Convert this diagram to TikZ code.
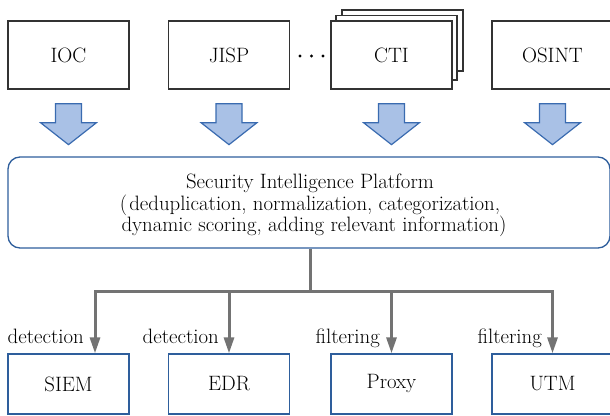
\documentclass[tikz,border=0pt]{standalone}
\usepackage{fontspec}
\usetikzlibrary{arrows.meta}
\definecolor{boxgray}{HTML}{333333}
\definecolor{boxblue}{HTML}{2E5E9C}
\definecolor{arrfill}{HTML}{A9C1E6}
\definecolor{arredge}{HTML}{3A6BB0}
\definecolor{conngray}{HTML}{737373}
\tikzset{
  txt/.style={font=\fontsize{20.8}{21.5}\selectfont, inner sep=0pt, text=black},
  srcbox/.style={txt, draw=boxgray, line width=1.3pt, fill=white, minimum width=121pt, minimum height=68pt},
  layerbox/.style={draw=boxgray, line width=1.3pt, fill=white},
  dstbox/.style={txt, draw=boxblue, line width=1.3pt, minimum width=121pt, minimum height=60pt},
  mainbox/.style={draw=boxblue, line width=1.3pt, rounded corners=12pt, minimum width=602pt, minimum height=91pt, inner sep=0pt},
  conn/.style={draw=conngray, line width=3pt},
  tip/.style={-{Triangle[length=16pt,width=10pt]}},
  lbl/.style={txt, anchor=base east},
  blockarrow/.pic={\draw[fill=arrfill, draw=arredge, line width=1.2pt, line join=miter]
     (-13,0) -- (13,0) -- (13,19) -- (28,19) -- (0,41) -- (-28,19) -- (-13,19) -- cycle;}
}
\begin{document}
\begin{tikzpicture}[x=1pt,y=-1pt]
\useasboundingbox (0,0) rectangle (610,415);
% sources
\node[srcbox] (ioc) at (68.5,55) {IOC};
\node[srcbox] (jisp) at (229,55) {JISP};
\draw[layerbox] (342,10) rectangle (463,71);
\draw[layerbox] (336,15.5) rectangle (457,80);
\node[srcbox] (cti) at (391.5,55) {CTI};
\node[srcbox] (osint) at (552.5,55) {OSINT};
\foreach \xx in {300,311.5,323} \fill[black] (\xx,56) circle (1.6pt);
% block arrows
\foreach \n in {ioc,jisp,cti,osint}
  \path ([yshift=-14pt]\n.south) pic {blockarrow};
% platform
\node[mainbox] (sip) at (309,202.5) {};
\node[txt, align=center] (siptext) at (310,205.3)
  {Security Intelligence Platform\\
   (\kern2pt deduplication, normalization, categorization,\hspace*{10pt}\\
   \hspace*{8pt}dynamic scoring, adding relevant information)};
% destinations
\node[dstbox] (siem) at (68.5,384) {SIEM};
\node[dstbox] (edr) at (229,384) {EDR};
\node[dstbox] (proxy) at (391.5,384) {Proxy};
\node[dstbox] (utm) at (552.5,384) {UTM};
% connectors
\coordinate (split) at (310,291);
\draw[conn] (sip.south -| split) -- (split);
\draw[conn,tip] (split) -| ([xshift=26.5pt]siem.north);
\draw[conn,tip] (split) -| (edr.north);
\draw[conn,tip] (split) -| (proxy.north);
\draw[conn,tip] (split) -| (utm.north);
% labels
\node[lbl] (l1) at ([xshift=15.5pt,yshift=10pt]siem.north) {detection};
\node[lbl] (l2) at ([xshift=-10pt,yshift=10pt]edr.north) {detection};
\node[lbl] (l3) at ([xshift=-11.5pt,yshift=10pt]proxy.north) {filtering};
\node[lbl] (l4) at ([xshift=-10.5pt,yshift=10pt]utm.north) {filtering};
\end{tikzpicture}
\end{document}
